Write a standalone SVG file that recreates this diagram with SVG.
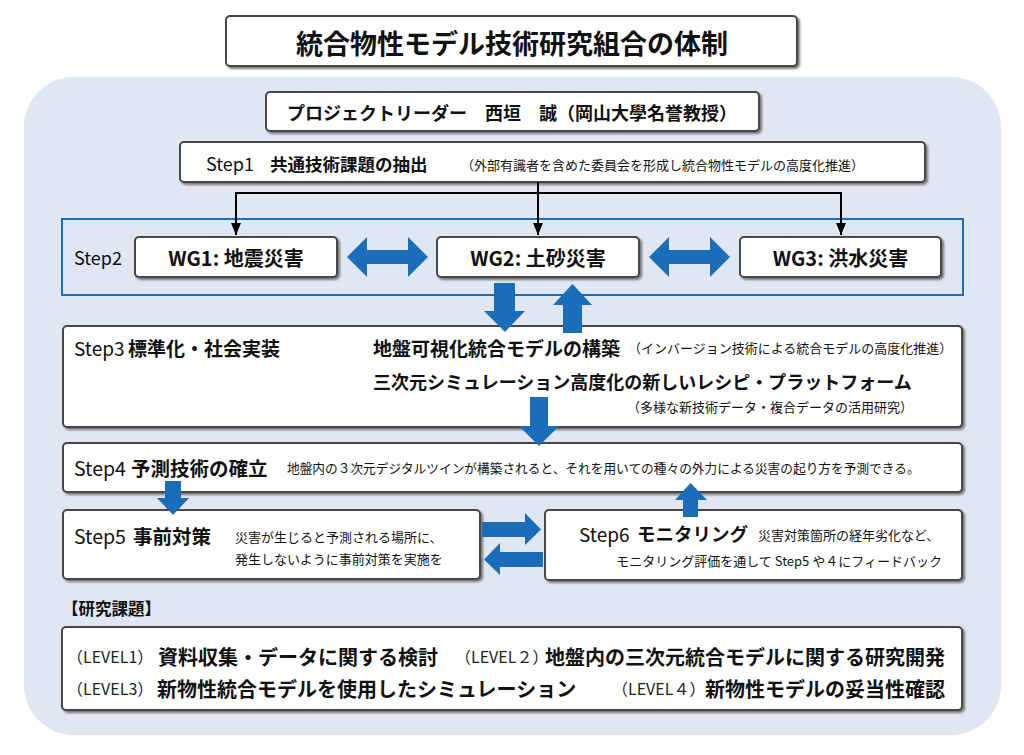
<svg xmlns="http://www.w3.org/2000/svg" width="1024" height="755" viewBox="0 0 1024 755">
<style>
text{font-family:'Noto Sans CJK JP','Noto Sans',sans-serif;fill:#111;dominant-baseline:central}
.box{fill:#fff;stroke:#474747;stroke-width:2;filter:url(#sh)}
.b{font-weight:bold}
.n{font-weight:normal}
.sm{font-size:13px;font-weight:normal}
.ba{fill:#1a6db8}
.con{fill:none;stroke:#000;stroke-width:2}
.lv{font-size:16px;font-weight:normal;fill:#222}
.lt{font-size:20px;font-weight:bold}
</style>
<defs>
<filter id="sh" x="-5%" y="-20%" width="110%" height="150%">
<feDropShadow dx="2" dy="2" stdDeviation="0.8" flood-color="#6b6b6b" flood-opacity="0.9"/>
</filter>
<marker id="ah" markerWidth="12" markerHeight="10" refX="12" refY="5" orient="auto" markerUnits="userSpaceOnUse">
<path d="M0,0 L12,5 L0,10 Z" fill="#000"/>
</marker>
</defs>
<rect width="1024" height="755" fill="#fff"/>
<rect x="24" y="77" width="977" height="658" rx="50" fill="#e0e6f2"/>

<g id="title">
<rect class="box" x="226" y="16" width="571" height="50" rx="4"/>
<text x="512" y="42" text-anchor="middle" class="b" font-size="27">統合物性モデル技術研究組合の体制</text>
</g>

<g id="leader">
<rect class="box" x="266" y="92" width="493" height="39" rx="4"/>
<text x="512" y="112" text-anchor="middle" class="b" font-size="18">プロジェクトリーダー　西垣　誠（岡山大學名誉教授）</text>
</g>

<g id="step1">
<rect class="box" x="180" y="142" width="745" height="40" rx="4"/>
<text x="206" y="163" class="n" font-size="18">Step1</text>
<text x="270" y="163" class="b" font-size="17.5">共通技術課題の抽出</text>
<text x="461" y="164" class="sm">（外部有識者を含めた委員会を形成し統合物性モデルの高度化推進）</text>
</g>

<g id="step2">
<rect x="62" y="219" width="901" height="76" fill="none" stroke="#1e6eb8" stroke-width="2"/>
<text x="74" y="257" class="n" font-size="18">Step2</text>
</g>

<g id="wg1">
<rect class="box" x="135" y="237" width="202" height="40" rx="4"/>
<text x="236" y="257" text-anchor="middle" class="b" font-size="20">WG1: 地震災害</text>
</g>
<g id="wg2">
<rect class="box" x="437" y="237" width="202" height="40" rx="4"/>
<text x="538" y="257" text-anchor="middle" class="b" font-size="20">WG2: 土砂災害</text>
</g>
<g id="wg3">
<rect class="box" x="740" y="237" width="201" height="40" rx="4"/>
<text x="840.5" y="257" text-anchor="middle" class="b" font-size="20">WG3: 洪水災害</text>
</g>

<g id="step3">
<rect class="box" x="63" y="326" width="899" height="101" rx="4"/>
<text x="74" y="347" class="n" font-size="19">Step3</text>
<text x="128" y="347" class="b" font-size="19">標準化・社会実装</text>
<text x="373" y="347" class="b" font-size="19">地盤可視化統合モデルの構築</text>
<text x="628" y="347" class="sm">（インバージョン技術による統合モデルの高度化推進）</text>
<text x="373" y="381" class="b" font-size="18">三次元シミュレーション高度化の新しいレシピ・プラットフォーム</text>
<text x="627" y="406" class="sm">（多様な新技術データ・複合データの活用研究）</text>
</g>

<g id="step4">
<rect class="box" x="63" y="443" width="899" height="49" rx="4"/>
<text x="74" y="467" class="n" font-size="19.5">Step4</text>
<text x="131" y="467" class="b" font-size="19.5">予測技術の確立</text>
<text x="287" y="467" class="n" font-size="12.7">地盤内の３次元デジタルツインが構築されると、それを用いての種々の外力による災害の起り方を予測できる。</text>
</g>

<g id="step5">
<rect class="box" x="63" y="510" width="417" height="69" rx="4"/>
<text x="74" y="535" class="n" font-size="19.5">Step5</text>
<text x="133" y="535" class="b" font-size="19.5">事前対策</text>
<text x="235" y="536" class="sm">災害が生じると予測される場所に、</text>
<text x="235" y="558" class="sm">発生しないように事前対策を実施を</text>
</g>

<g id="step6">
<rect class="box" x="545" y="510" width="417" height="70" rx="4"/>
<text x="579" y="533" class="n" font-size="19">Step6</text>
<text x="637" y="533" class="b" font-size="18.5">モニタリング</text>
<text x="758" y="534" class="sm">災害対策箇所の経年劣化など、</text>
<text x="942" y="560" text-anchor="end" class="sm">モニタリング評価を通して Step5 や４にフィードバック</text>
</g>

<g id="research-label">
<text x="62" y="608" class="b" font-size="16.5">【研究課題】</text>
</g>

<g id="research">
<rect class="box" x="62" y="627" width="900" height="83" rx="4"/>
<text x="67" y="656" class="lv">（LEVEL1）</text>
<text x="158" y="656" class="lt">資料収集・データに関する検討</text>
<text x="455" y="656" class="lv">（LEVEL２）</text>
<text x="545" y="656" class="lt">地盤内の三次元統合モデルに関する研究開発</text>
<text x="67" y="688" class="lv">（LEVEL3）</text>
<text x="157" y="688" class="lt">新物性統合モデルを使用したシミュレーション</text>
<text x="612" y="688" class="lv">（LEVEL４）</text>
<text x="705" y="688" class="lt">新物性モデルの妥当性確認</text>
</g>

<g id="connectors">
<path class="con" d="M538,182 V235" marker-end="url(#ah)"/>
<path class="con" d="M236,193 H841"/>
<path class="con" d="M236,192 V235" marker-end="url(#ah)"/>
<path class="con" d="M841,192 V235" marker-end="url(#ah)"/>
<polygon class="ba" points="347,257 367,237 367,250 408,250 408,237 428,257 408,277 408,264 367,264 367,277"/>
<polygon class="ba" points="649,257 669,237 669,250 710,250 710,237 730,257 710,277 710,264 669,264 669,277"/>
<polygon class="ba" points="494,283 515,283 515,311 525,311 505,332 484,311 494,311"/>
<polygon class="ba" points="563,333 582,333 582,305 592,305 572.5,284 553,305 563,305"/>
<polygon class="ba" points="530,397 548,397 548,426 559,426 539,446 519,426 530,426"/>
<polygon class="ba" points="165,481 181,481 181,498 189,498 173,515 157,498 165,498"/>
<polygon class="ba" points="683,517 698,517 698,500 707,500 690.5,483 675,500 683,500"/>
<polygon class="ba" points="482,522 525,522 525,513 541,529.5 525,545 525,537 482,537"/>
<polygon class="ba" points="543,552 500,552 500,543 484,559.5 500,575 500,567 543,567"/>
</g>
</svg>
